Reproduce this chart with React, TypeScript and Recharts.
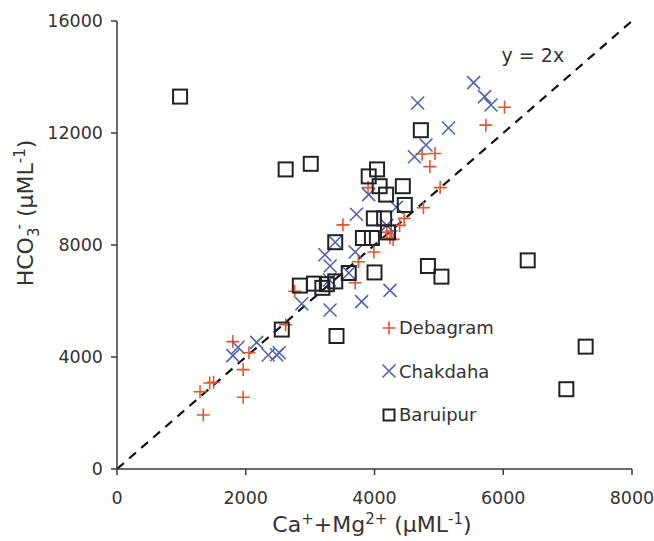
import React from "react";
import {
  ScatterChart,
  Scatter,
  XAxis,
  YAxis,
  ReferenceLine,
  ReferenceDot,
  Legend,
} from "recharts";

// values (µML-1)
const debagramX = [1340, 1290, 1440, 1500, 1960, 1960, 1800, 2050, 2620, 2760, 3700, 3750, 3990, 3510, 3900, 4190, 4240, 4290, 4260, 4390, 4460, 4760, 5020, 4860, 4740, 4940, 5730, 6020];
const debagramY = [1930, 2760, 3070, 3100, 2560, 3550, 4550, 4150, 5150, 6350, 6650, 7400, 7750, 8720, 10050, 8450, 8250, 8200, 8500, 8700, 8950, 9330, 10050, 10800, 11250, 11270, 12280, 12920];

const chakdahaX = [1800, 1880, 2170, 2350, 2480, 2520, 2870, 3310, 3800, 4240, 3230, 3310, 3390, 3600, 3700, 3720, 3910, 4190, 4340, 4620, 4800, 4670, 5150, 5540, 5710, 5810, 3300];
const chakdahaY = [4050, 4350, 4520, 4070, 4080, 4150, 5900, 5680, 5980, 6380, 7650, 7250, 8100, 7000, 7750, 9100, 9800, 8700, 9350, 11150, 11570, 13070, 12180, 13800, 13300, 13000, 6750];

const baruipurX = [980, 2620, 3010, 4720, 3910, 4040, 4080, 4180, 4440, 4470, 3990, 4150, 4210, 3820, 3960, 3390, 3600, 4000, 2840, 3060, 3190, 3260, 3390, 2560, 3410, 4830, 5040, 6380, 7280, 6980];
const baruipurY = [13300, 10700, 10900, 12100, 10450, 10700, 10100, 9800, 10100, 9430, 8950, 8950, 8450, 8250, 8250, 8100, 7000, 7020, 6550, 6620, 6470, 6600, 6700, 4980, 4750, 7250, 6870, 7450, 4370, 2850];

const xTicks = [0, 2000, 4000, 6000, 8000];
const yTicks = [0, 4000, 8000, 12000, 16000];

const RED = "#e4552f";
const BLUE = "#5162b2";
const DARK = "#222";
const FONT = "'DejaVu Sans', Verdana, sans-serif";

const toPoints = (xs: number[], ys: number[]) => xs.map((x, i) => ({ x, y: ys[i] }));

const PlusMark = ({ cx, cy }: any) => (
  <path d={`M${cx - 6.5},${cy}H${cx + 6.5}M${cx},${cy - 6.5}V${cy + 6.5}`} stroke={RED} strokeWidth={1.6} fill="none" />
);
const CrossMark = ({ cx, cy }: any) => (
  <path d={`M${cx - 6.5},${cy - 6.5}L${cx + 6.5},${cy + 6.5}M${cx - 6.5},${cy + 6.5}L${cx + 6.5},${cy - 6.5}`} stroke={BLUE} strokeWidth={1.6} fill="none" />
);
const SquareMark = ({ cx, cy }: any) => (
  <rect x={cx - 7} y={cy - 7} width={14} height={14} stroke={DARK} strokeWidth={2} fill="none" />
);

const series = [
  { name: "Debagram", data: toPoints(debagramX, debagramY), Mark: PlusMark },
  { name: "Chakdaha", data: toPoints(chakdahaX, chakdahaY), Mark: CrossMark },
  { name: "Baruipur", data: toPoints(baruipurX, baruipurY), Mark: SquareMark },
];

const LegendBox = () => (
  <div style={{ fontFamily: FONT, fontSize: 18, color: "#333" }}>
    {series.map(({ name, Mark }) => (
      <div key={name} style={{ display: "flex", alignItems: "center", height: 43.5 }}>
        <svg width={16} height={16} style={{ overflow: "visible" }}>
          {name === "Baruipur" ? (
            <rect x={2.5} y={2.5} width={11} height={11} stroke={DARK} strokeWidth={2} fill="none" />
          ) : (
            <Mark cx={8} cy={8} />
          )}
        </svg>
        <span style={{ marginLeft: 2 }}>{name}</span>
      </div>
    ))}
  </div>
);

const YTitle = () => (
  <text transform="translate(33,213) rotate(-90)" textAnchor="middle" fontFamily={FONT} fontSize={22} fill="#333">
    HCO<tspan dy={6} fontSize={15}>3</tspan>
    <tspan dy={-15} dx={-2} fontSize={15}>-</tspan>
    <tspan dy={9}> (µML</tspan>
    <tspan dy={-8} fontSize={15}>-1</tspan>
    <tspan dy={8}>)</tspan>
  </text>
);

const XTitle = () => (
  <text x={372} y={532} textAnchor="middle" fontFamily={FONT} fontSize={22} fill="#333">
    Ca<tspan dy={-8} fontSize={15}>+</tspan>
    <tspan dy={8}>+Mg</tspan>
    <tspan dy={-8} fontSize={15}>2+</tspan>
    <tspan dy={8}> (µML</tspan>
    <tspan dy={-8} fontSize={15}>-1</tspan>
    <tspan dy={8}>)</tspan>
  </text>
);

const tickStyle = { fontFamily: FONT, fontSize: 17.5, fill: "#333" };
const axisLine = { stroke: "#3a3a3a", strokeWidth: 1.5 };

export default function App() {
  return (
    <div style={{ position: "absolute", left: 0, top: 0, background: "#fff" }}>
      <ScatterChart width={654} height={541} margin={{ top: 21, right: 22, bottom: 22, left: 47 }}>
        <XAxis
          type="number"
          dataKey="x"
          domain={[0, 8000]}
          ticks={xTicks}
          tickSize={6}
          tickMargin={17}
          axisLine={axisLine}
          tickLine={axisLine}
          tick={tickStyle}
          height={50}
          label={{ content: XTitle }}
        />
        <YAxis
          type="number"
          dataKey="y"
          domain={[0, 16000]}
          ticks={yTicks}
          tickSize={6}
          tickMargin={8}
          axisLine={axisLine}
          tickLine={axisLine}
          tick={tickStyle}
          width={70}
          label={{ content: YTitle }}
        />
        <ReferenceLine
          segment={[{ x: 0, y: 0 }, { x: 8000, y: 16000 }]}
          stroke="#111"
          strokeWidth={2.2}
          strokeDasharray="9 7"
        />
        <ReferenceDot
          x={6460}
          y={14790}
          r={0}
          fill="none"
          stroke="none"
          label={{ value: "y = 2x", position: "center", fontFamily: FONT, fontSize: 19, fill: "#333" }}
        />
        {series.map(({ name, data, Mark }) => (
          <Scatter
            key={name}
            name={name}
            data={data}
            isAnimationActive={false}
            shape={(p: any) => <Mark cx={p.cx} cy={p.cy} />}
          />
        ))}
        <Legend
          layout="vertical"
          align="center"
          verticalAlign="middle"
          content={LegendBox}
          wrapperStyle={{ left: 381, top: 306, width: 140 }}
        />
      </ScatterChart>
    </div>
  );
}
